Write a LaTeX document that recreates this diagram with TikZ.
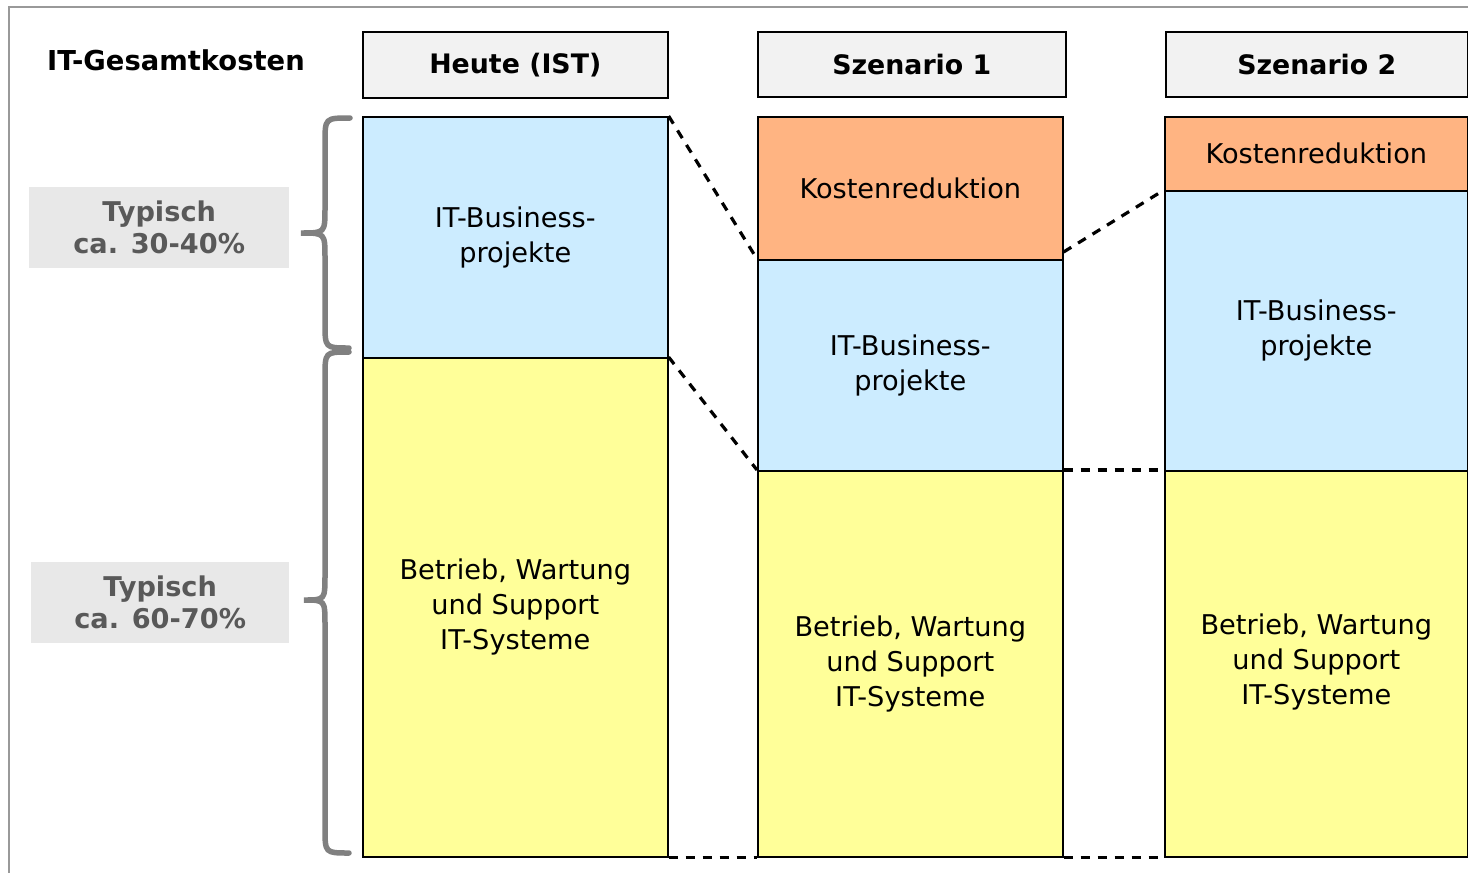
\documentclass[tikz,border=0pt]{standalone}
\usepackage{fontspec}
\usetikzlibrary{calc}
\setmainfont{DejaVu Sans}
\definecolor{projblue}{HTML}{CCECFF}
\definecolor{betryellow}{HTML}{FFFF99}
\definecolor{redorange}{HTML}{FFB482}
\definecolor{headgray}{HTML}{F2F2F2}
\definecolor{labelgray}{HTML}{E8E8E8}
\definecolor{labeltext}{HTML}{595959}
\definecolor{bracegray}{HTML}{808080}
\definecolor{framegray}{HTML}{999999}
\begin{document}
\begin{tikzpicture}[x=1pt,y=-1pt,
  seg/.style={draw=black, line width=1.6pt, anchor=north west, inner sep=0pt,
    align=center, font=\fontsize{27.2}{35}\selectfont},
  headbox/.style={seg, fill=headgray, font=\fontsize{26.8}{35}\selectfont\bfseries},
  pctlabel/.style={fill=labelgray, anchor=north west, inner sep=0pt, align=center,
    text=labeltext, font=\fontsize{27.2}{32}\selectfont\bfseries},
  link/.style={draw=black, line width=3.2pt, dash pattern=on 9pt off 8pt},
  bracestyle/.style={draw=bracegray, line width=5.5pt, line cap=round}]
\useasboundingbox (0,0) rectangle (1468,873);
% frame
\draw[framegray, line width=2pt] (9,873) -- (9,7) -- (1468,7);
% title
\node[anchor=west, font=\fontsize{27.4}{32}\selectfont\bfseries, inner sep=0pt] (title) at (47,60) {IT-Gesamtkosten};
% headers
\node[headbox, minimum width=305, minimum height=66] (h0) at (362,31) {Heute (IST)};
\node[headbox, minimum width=308, minimum height=65] (h1) at (757,31) {Szenario 1};
\node[headbox, minimum width=302, minimum height=65] (h2) at (1165,31) {Szenario 2};
% column IST
\node[seg, fill=projblue, minimum width=305, minimum height=241] (c0p) at (362,116) {IT-Business-\\projekte};
\node[seg, fill=betryellow, minimum width=305, minimum height=499] (c0b) at (362,357) {Betrieb, Wartung\\und Support\\IT-Systeme};
% column Szenario 1
\node[seg, fill=redorange, minimum width=305, minimum height=143] (c1r) at (757,116) {Kostenreduktion};
\node[seg, fill=projblue, minimum width=305, minimum height=211] (c1p) at (757,259) {IT-Business-\\projekte};
\node[seg, fill=betryellow, minimum width=305, minimum height=386] (c1b) at (757,470) {Betrieb, Wartung\\und Support\\IT-Systeme};
% column Szenario 2
\node[seg, fill=redorange, minimum width=303, minimum height=74] (c2r) at (1164,116) {Kostenreduktion};
\node[seg, fill=projblue, minimum width=303, minimum height=280] (c2p) at (1164,190) {IT-Business-\\projekte};
\node[seg, fill=betryellow, minimum width=303, minimum height=386, text depth=10pt] (c2b) at (1164,470) {Betrieb, Wartung\\und Support\\IT-Systeme};
% dashed links
\draw[link] (c0p.north east) -- (c1p.north west);
\draw[link] (c0b.north east) -- (c1b.north west);
\draw[link] (c0b.south east) -- (c1b.south west);
\coordinate (s1cut) at ($(c1p.north east)+(0,-7)$);
\draw[link] (s1cut) -- (c2p.north west);
\draw[link] (c1b.north east) -- (c2b.north west);
\draw[link] (c1b.south east) -- (c2b.south west);
% percentage labels
\node[pctlabel, minimum width=260, minimum height=81] (l1) at (29,187) {Typisch\\ca. 30-40\%};
\node[pctlabel, minimum width=258, minimum height=81] (l2) at (31,562) {Typisch\\ca. 60-70\%};
% braces
\draw[bracestyle] (350,118) .. controls (325,118) .. (325,143) -- (325,208)
  .. controls (325,233) .. (301,233) .. controls (325,233) .. (325,258) -- (325,323)
  .. controls (325,348) .. (349,348);
\draw[bracestyle] (349,352) .. controls (325,352) .. (325,377) -- (325,575)
  .. controls (325,600) .. (304,600) .. controls (325,600) .. (325,625) -- (325,828)
  .. controls (325,853) .. (349,853);
\end{tikzpicture}
\end{document}
